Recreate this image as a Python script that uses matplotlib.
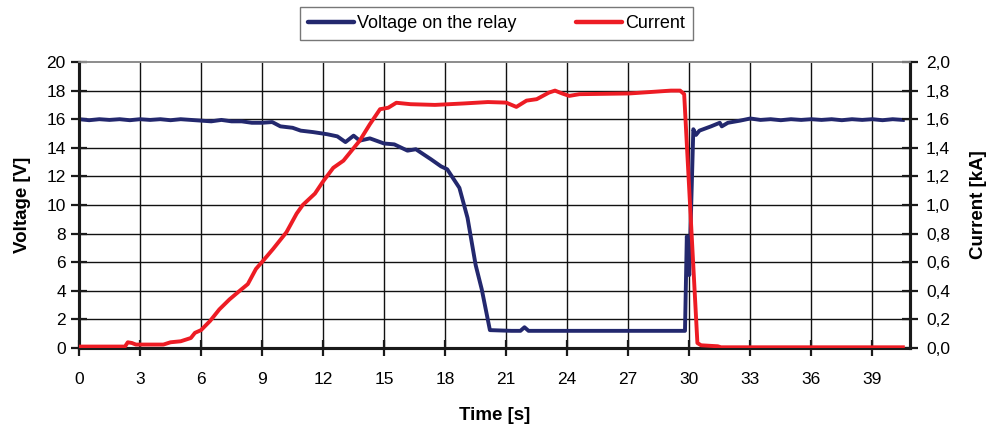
import matplotlib
matplotlib.use("Agg")
import matplotlib.pyplot as plt
from matplotlib.ticker import FuncFormatter

plt.rcParams["font.family"] = ["Liberation Sans", "DejaVu Sans"]

# ==== DATA ====
time_v = [0, 0.5, 1, 1.5, 2, 2.5, 3, 3.5, 4, 4.5, 5, 5.5, 6, 6.5, 7, 7.5, 8, 8.5,
          9, 9.5, 9.9, 10.5, 10.9, 11.5, 12.2, 12.7, 13.1, 13.5, 13.8, 14.3, 15.0,
          15.5, 16.15, 16.56, 17.3, 17.8, 18.1, 18.7, 19.1, 19.5, 19.8, 20.2,
          21.25, 21.7, 21.9, 22.1, 29.79, 29.88, 30.0, 30.2, 30.33, 30.5, 31.07,
          31.5, 31.6, 31.9, 32.5, 33.0, 33.5, 34, 34.5, 35, 35.5, 36, 36.5, 37,
          37.5, 38, 38.5, 39, 39.5, 40, 40.5]
voltage = [16.0, 15.93, 16.0, 15.95, 16.0, 15.93, 16.0, 15.95, 16.0, 15.93, 16.0,
           15.95, 15.9, 15.85, 15.95, 15.85, 15.85, 15.75, 15.75, 15.8, 15.5, 15.4,
           15.2, 15.1, 14.95, 14.8, 14.4, 14.85, 14.5, 14.66, 14.3, 14.24, 13.8,
           13.9, 13.2, 12.7, 12.5, 11.2, 9.1, 5.8, 4.1, 1.25, 1.2, 1.2, 1.45,
           1.2, 1.2, 7.8, 5.1, 15.3, 14.9, 15.2, 15.5, 15.75, 15.5, 15.75, 15.9,
           16.05, 15.95, 16.0, 15.93, 16.0, 15.95, 16.0, 15.95, 16.0, 15.93, 16.0,
           15.95, 16.0, 15.93, 16.0, 15.95]

time_i = [0, 2.26, 2.4, 2.6, 2.8, 4.15, 4.5, 5.0, 5.5, 5.7, 6.0, 6.45, 6.9, 7.4,
          7.9, 8.3, 8.7, 9.05, 9.55, 10.2, 10.7, 11.0, 11.6, 12.0, 12.5, 13.0,
          13.8, 14.3, 14.8, 15.2, 15.6, 16.3, 17.5, 18.9, 20.1, 21.0, 21.5, 22.0,
          22.5, 23.1, 23.4, 23.75, 24.1, 24.6, 27.05, 29.1, 29.55, 29.75, 30.4,
          30.58, 31.4, 31.56, 40.5]
current = [0.01, 0.01, 0.04, 0.035, 0.024, 0.024, 0.04, 0.047, 0.07, 0.106,
           0.125, 0.19, 0.27, 0.34, 0.40, 0.447, 0.553, 0.61, 0.694, 0.81, 0.94,
           1.0, 1.08, 1.165, 1.26, 1.31, 1.45, 1.565, 1.67, 1.68, 1.715, 1.705,
           1.70, 1.71, 1.72, 1.716, 1.686, 1.73, 1.74, 1.786, 1.80, 1.78, 1.763,
           1.775, 1.78, 1.80, 1.80, 1.775, 0.035, 0.019, 0.012, 0.005, 0.005]

x_ticks = [0, 3, 6, 9, 12, 15, 18, 21, 24, 27, 30, 33, 36, 39]
v_ticks = [0, 2, 4, 6, 8, 10, 12, 14, 16, 18, 20]
i_ticks = [0, 0.2, 0.4, 0.6, 0.8, 1.0, 1.2, 1.4, 1.6, 1.8, 2.0]

blue = "#23286e"
red = "#ed1c24"

#====PLOT======
fig = plt.figure(figsize=(9.86, 4.33), dpi=100)
ax = fig.add_axes([0.0801, 0.1963, 0.8428, 0.6605])
ax2 = ax.twinx()

ax.set_xlim(0, 40.85)
ax.set_ylim(0, 20)
ax2.set_ylim(0, 2)

# grid drawn by hand so the top border stays grey
for xv in x_ticks[1:]:
    ax.axvline(xv, color="#111111", lw=1.0, zorder=0.5)
for yv in v_ticks[1:-1]:
    ax.axhline(yv, color="#111111", lw=1.0, zorder=0.5)

l1, = ax.plot(time_v, voltage, color=blue, lw=2.8, solid_joinstyle="round",
              label="Voltage on the relay", zorder=3)
l2, = ax2.plot(time_i, current, color=red, lw=2.8, solid_joinstyle="round",
               label="Current", zorder=3)

ax.set_xticks(x_ticks)
ax.set_yticks(v_ticks)
ax2.set_yticks(i_ticks)
ax2.yaxis.set_major_formatter(FuncFormatter(lambda v, p: f"{v:.1f}".replace(".", ",")))

for a in (ax, ax2):
    a.spines["top"].set_color("#8c8c8c")
    a.spines["top"].set_linewidth(1.2)
    for s in ("left", "right", "bottom"):
        a.spines[s].set_color("#1a1a1a")
        a.spines[s].set_linewidth(2.2)

ax.tick_params(axis="y", direction="inout", length=11, width=1.6,
               labelsize=12.5, pad=4, color="#1a1a1a")
ax.tick_params(axis="x", direction="inout", length=11, width=1.6,
               labelsize=12.5, pad=12, color="#1a1a1a")
ax2.tick_params(axis="y", direction="inout", length=11, width=1.6,
                labelsize=12.5, pad=6, color="#1a1a1a")

ax.set_xlabel("Time [s]", fontsize=13.5, fontweight="bold")
ax.set_ylabel("Voltage [V]", fontsize=13.5, fontweight="bold")
ax2.set_ylabel("Current [kA]", fontsize=13.5, fontweight="bold")
ax.xaxis.set_label_coords(0.5, -0.205)
ax.yaxis.set_label_coords(-0.058, 0.5)
ax2.yaxis.set_label_coords(1.072, 0.5)

leg = fig.legend(handles=[l1, l2], loc="upper center",
                 bbox_to_anchor=(0.5035, 0.984), ncol=2, fontsize=13,
                 frameon=True, fancybox=False, handlelength=2.55,
                 handletextpad=0.15, columnspacing=3.3, borderpad=0.45,
                 borderaxespad=0)
leg.get_frame().set_edgecolor("#555555")
leg.get_frame().set_linewidth(1.0)
for h in leg.get_lines():
    h.set_linewidth(3.2)
    h.set_solid_capstyle("round")

plt.savefig("out.png", dpi=100)
